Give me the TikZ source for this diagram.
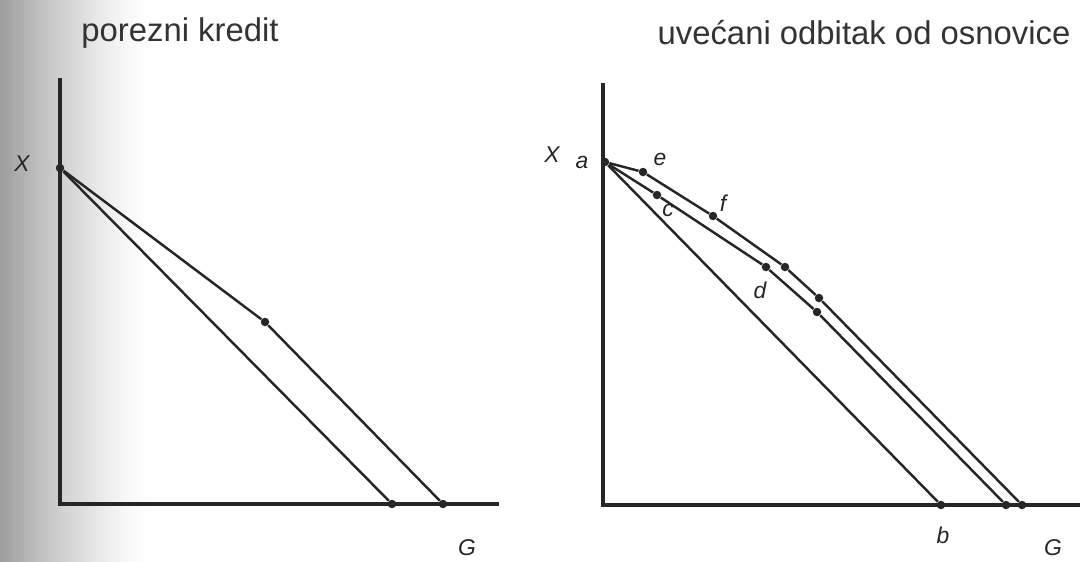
\documentclass[tikz,border=0pt]{standalone}
\usepackage{fontspec}
\setmainfont{Liberation Sans}
\begin{document}
\begin{tikzpicture}[x=0.02cm,y=-0.02cm,
  axis/.style={line width=2.2pt,draw=black!85},
  budget/.style={line width=1.4pt,draw=black!85,line join=round},
  dot/.style={circle,fill=black!85,inner sep=0pt,minimum size=0.17cm},
  title/.style={font=\fontsize{18.7}{22}\selectfont,text=black!80},
  lbl/.style={font=\fontsize{13}{15}\selectfont\itshape,text=black!85,inner sep=1pt}
]
\useasboundingbox (0,0) rectangle (1080,562);
\foreach \i in {0,...,49}{
  \pgfmathsetmacro\g{38*(1-\i/50)^1.4}
  \fill[black!\g] (\i*3,0) rectangle (\i*3+3.4,562);
}
% porezni kredit
\node[title] (t1) at (180,33) {porezni kredit};
\coordinate (y1) at (60,78);\coordinate (o1) at (60,504);\coordinate (x1) at (499,504);
\draw[axis] (y1)--(o1)--(x1);
\node[dot] (A) at (60,168) {};
\node[dot] (K) at (265,322) {};
\node[dot] (B1) at (392,504) {};
\node[dot] (B2) at (443,504) {};
\draw[budget] (A)--(B1);
\draw[budget] (A)--(K)--(B2);
\node[lbl] (lx1) at (22,164) {X};
\node[lbl] (lg1) at (467,548) {G};
% uvecani odbitak
\node[title] (t2) at (864,33) {uvećani odbitak od osnovice};
\coordinate (y2) at (603,83);\coordinate (o2) at (603,505);\coordinate (x2) at (1080,505);
\draw[axis] (y2)--(o2)--(x2);
\node[dot] (a) at (605,162) {};
\node[dot] (e) at (643,172) {};
\node[dot] (c) at (657,195) {};
\node[dot] (f) at (713,216) {};
\node[dot] (d1) at (766,267) {};
\node[dot] (f1) at (785,267) {};
\node[dot] (f2) at (819,298) {};
\node[dot] (d2) at (817,312) {};
\node[dot] (b) at (941,505) {};
\node[dot] (m) at (1006,505) {};
\node[dot] (n) at (1022,505) {};
\draw[budget] (a)--(b);
\draw[budget] (a)--(c)--(d1)--(d2)--(m);
\draw[budget] (a)--(e)--(f)--(f1)--(f2)--(n);
\node[lbl] (lx2) at (552,155) {X};
\node[lbl] (la) at (582,162) {a};
\node[lbl] (le) at (660,159) {e};
\node[lbl] (lc) at (668,210) {c};
\node[lbl] (lf) at (723,203) {f};
\node[lbl] (ld) at (760,290) {d};
\node[lbl] (lb) at (943,535) {b};
\node[lbl] (lg2) at (1053,548) {G};
\end{tikzpicture}
\end{document}
